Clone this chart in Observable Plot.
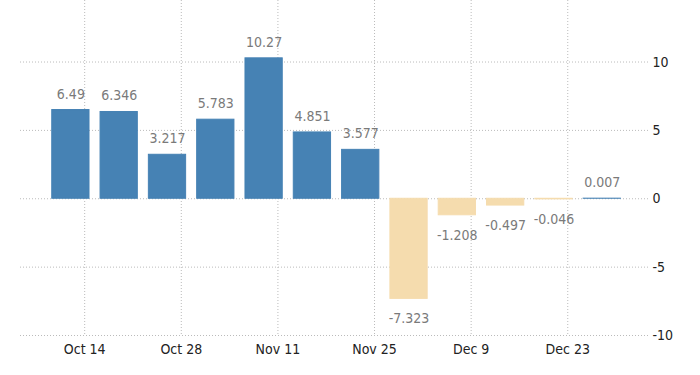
<!DOCTYPE html>
<html>
<head>
<meta charset="utf-8">
<script src="https://cdn.jsdelivr.net/npm/d3@7"></script>
<script src="https://cdn.jsdelivr.net/npm/@observablehq/plot@0.6"></script>
<style>
  html, body { margin: 0; padding: 0; background: #fff; }
  #chart svg { display: block; }
</style>
</head>
<body>
<div id="chart"></div>
<script>
// Weekly observations
const dates = ["2019-10-12","2019-10-19","2019-10-26","2019-11-02","2019-11-09","2019-11-16",
               "2019-11-23","2019-11-30","2019-12-07","2019-12-14","2019-12-21","2019-12-28"];
const values = [6.49, 6.346, 3.217, 5.783, 10.27, 4.851, 3.577, -7.323, -1.208, -0.497, -0.046, 0.007];
const labels = ["6.49","6.346","3.217","5.783","10.27","4.851","3.577","-7.323","-1.208","-0.497","-0.046","0.007"];
const xTicks = ["2019-10-14","2019-10-28","2019-11-11","2019-11-25","2019-12-09","2019-12-23"];
const yTicks = [-10, -5, 0, 5, 10];
const posColor = "#4682b4";
const negColor = "#f5dcae";

const DAY = 864e5;
const data = dates.map((d, i) => {
  const t = new Date(d + "T00:00:00Z");
  return {
    date: t,
    x1: new Date(+t - 2.7 * DAY),
    x2: new Date(+t + 2.7 * DAY),
    value: values[i],
    label: labels[i]
  };
});
const tickDates = xTicks.map(d => new Date(d + "T00:00:00Z"));
const first = data[0].date, last = data[data.length - 1].date;
const xDomain = [new Date(+first - 7.3 * DAY), new Date(+last + 6.7 * DAY)];

const font = "'Liberation Sans Narrow', 'DejaVu Sans Condensed', 'Liberation Sans', sans-serif";
const colorOf = d => d.value >= 0 ? posColor : negColor;

const chart = Plot.plot({
  width: 700,
  height: 375,
  marginLeft: 20,
  marginRight: 52,
  marginTop: 0,
  marginBottom: 40,
  style: { fontFamily: font, fontSize: "14px", background: "#fff", overflow: "visible" },
  x: { type: "utc", domain: xDomain },
  y: { domain: [-10, 14.5] },
  marks: [
    Plot.ruleY(yTicks, { stroke: "#bbb", strokeDasharray: "1,2", strokeWidth: 1 }),
    Plot.ruleX(tickDates, { stroke: "#bbb", strokeDasharray: "1,2", strokeWidth: 1 }),
    Plot.rectY(data, {
      x1: "x1", x2: "x2", y1: 0, y2: "value",
      fill: colorOf, stroke: colorOf, strokeWidth: 1
    }),
    Plot.text(data.filter(d => d.value >= 0), {
      x: "date", y: "value", text: "label", dy: -16,
      fill: "#7a7a7a", fontSize: 14, textAnchor: "middle"
    }),
    Plot.text(data.filter(d => d.value < 0), {
      x: "date", y: "value", text: "label", dy: 20,
      fill: "#7a7a7a", fontSize: 14, textAnchor: "middle"
    }),
    Plot.axisY({ anchor: "right", ticks: yTicks, tickSize: 0, tickPadding: 4,
                 tickFormat: d => String(d), label: null, fill: "#222", fontSize: 14 }),
    Plot.axisX({ ticks: tickDates, tickSize: 0, tickPadding: 9,
                 tickFormat: d3.utcFormat("%b %-d"), label: null, fill: "#222", fontSize: 14 })
  ]
});
document.getElementById("chart").appendChild(chart);
</script>
</body>
</html>
